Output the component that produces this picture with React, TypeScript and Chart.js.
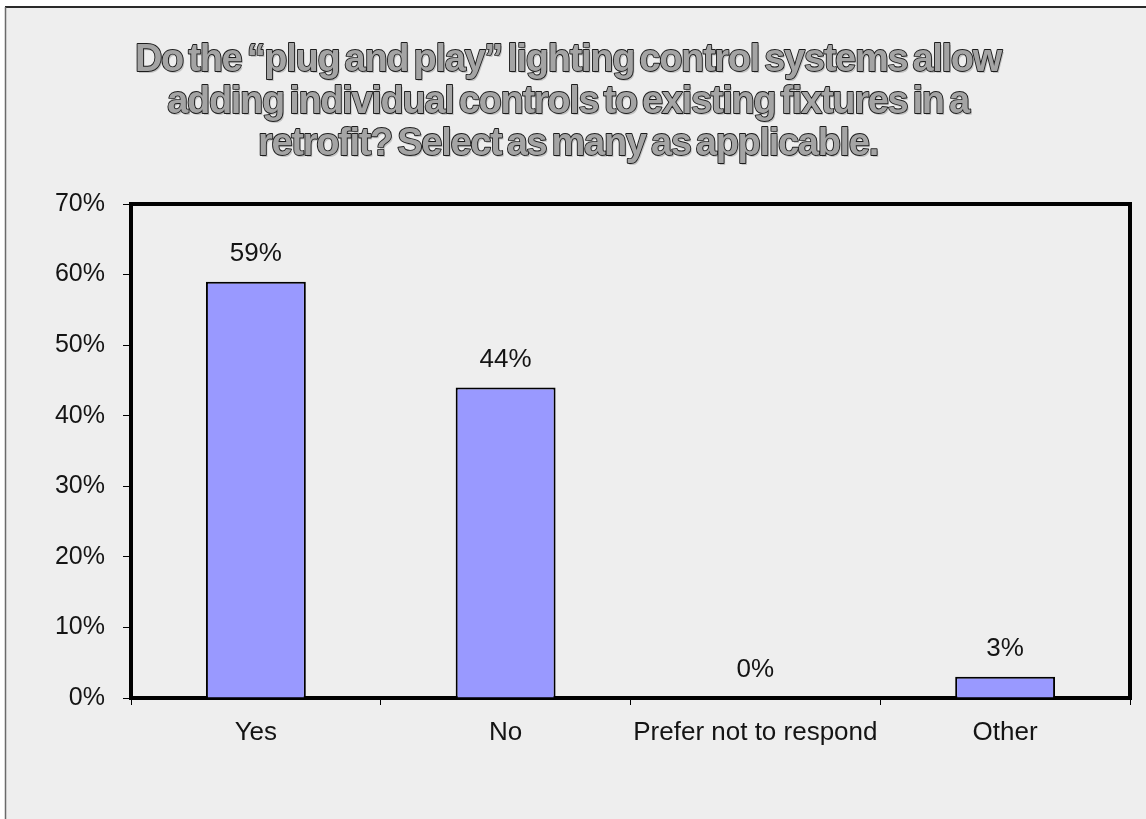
import { useEffect, useRef } from 'react';
import { Chart, registerables } from 'chart.js';

Chart.register(...registerables);

// Survey answers and their shares of respondents (percent)
const categories = ['Yes', 'No', 'Prefer not to respond', 'Other'];
const responseShares = [59, 44, 0, 3];

// Value axis range and step (percent)
const yMin = 0;
const yMax = 70;
const yStep = 10;

const titleLines = [
  'Do the \u201Cplug and play\u201D lighting control systems allow',
  'adding individual controls to existing fixtures in a',
  'retrofit? Select as many as applicable.',
];

const FONT = '"Liberation Sans", Arial, Helvetica, sans-serif';
const WIDTH = 1146;
const HEIGHT = 819;

// Slide-style grey panel with a dark top and left edge
const panelBackground = {
  id: 'panelBackground',
  beforeDraw(chart: Chart) {
    const { ctx, width, height } = chart;
    ctx.save();
    ctx.fillStyle = '#ffffff';
    ctx.fillRect(0, 0, width, height);
    ctx.fillStyle = '#eeeeee';
    ctx.fillRect(5, 7, width - 5, height - 7);
    ctx.strokeStyle = '#2a2a2a';
    ctx.lineWidth = 2;
    ctx.beginPath();
    ctx.moveTo(5, 7);
    ctx.lineTo(width, 7);
    ctx.stroke();
    ctx.strokeStyle = '#6a6a6a';
    ctx.lineWidth = 1.5;
    ctx.beginPath();
    ctx.moveTo(5.5, 7);
    ctx.lineTo(5.5, height);
    ctx.stroke();
    ctx.restore();
  },
};

// Embossed, tightly tracked three-line heading above the plot
const embossedTitle = {
  id: 'embossedTitle',
  afterDraw(chart: Chart) {
    const ctx = chart.ctx as any;
    const cx = 568;
    const baselines = [71, 113, 155];
    ctx.save();
    ctx.font = `bold 38px ${FONT}`;
    ctx.letterSpacing = '-1.3px';
    ctx.wordSpacing = '-4px';
    ctx.textAlign = 'center';
    ctx.textBaseline = 'alphabetic';
    ctx.lineJoin = 'round';
    titleLines.forEach((line, i) => {
      const y = baselines[i];
      ctx.fillStyle = '#c4c4c4';
      ctx.fillText(line, cx + 1.5, y + 1.5);
      ctx.strokeStyle = '#1c1c1c';
      ctx.lineWidth = 1.8;
      ctx.strokeText(line, cx, y);
      ctx.fillStyle = '#a4a4a4';
      ctx.fillText(line, cx, y);
    });
    ctx.restore();
  },
};

// Closes the plot frame on the top and right sides
const plotFrame = {
  id: 'plotFrame',
  afterDatasetsDraw(chart: Chart) {
    const { ctx, chartArea } = chart;
    ctx.save();
    ctx.strokeStyle = '#000000';
    ctx.lineWidth = 4;
    ctx.lineCap = 'square';
    ctx.beginPath();
    ctx.moveTo(chartArea.left, chartArea.top);
    ctx.lineTo(chartArea.right, chartArea.top);
    ctx.lineTo(chartArea.right, chartArea.bottom);
    ctx.stroke();
    ctx.restore();
  },
};

// Percentage printed above each bar
const barValueLabels = {
  id: 'barValueLabels',
  afterDatasetsDraw(chart: Chart) {
    const { ctx } = chart;
    const meta = chart.getDatasetMeta(0);
    const values = chart.data.datasets[0].data as number[];
    ctx.save();
    ctx.font = `26px ${FONT}`;
    ctx.fillStyle = '#141414';
    ctx.textAlign = 'center';
    ctx.textBaseline = 'middle';
    meta.data.forEach((bar: any, i: number) => {
      ctx.fillText(`${values[i]}%`, bar.x, bar.y - 28);
    });
    ctx.restore();
  },
};

export default function App() {
  const canvasRef = useRef<HTMLCanvasElement | null>(null);

  useEffect(() => {
    const canvas = canvasRef.current;
    if (!canvas) return;
    const chart = new Chart(canvas, {
      type: 'bar',
      data: {
        labels: categories,
        datasets: [
          {
            data: responseShares,
            backgroundColor: '#9999ff',
            borderColor: '#000000',
            borderWidth: 2,
            barPercentage: 0.4,
            categoryPercentage: 1.0,
          },
        ],
      },
      options: {
        responsive: false,
        maintainAspectRatio: false,
        animation: false,
        devicePixelRatio: 1,
        layout: { padding: { top: 204, right: 16, bottom: 0, left: 0 } },
        plugins: {
          legend: { display: false },
          tooltip: { enabled: false },
          title: { display: false },
        },
        scales: {
          x: {
            offset: true,
            grid: {
              display: true,
              offset: true,
              drawOnChartArea: false,
              drawTicks: true,
              tickLength: 7,
              color: '#000000',
              lineWidth: 1,
            },
            border: { display: true, color: '#000000', width: 4 },
            ticks: {
              color: '#141414',
              font: { family: FONT, size: 26 },
              padding: 12,
              maxRotation: 0,
              autoSkip: false,
            },
            afterFit(scale: any) {
              scale.height = 121;
            },
          },
          y: {
            min: yMin,
            max: yMax,
            grid: {
              display: true,
              drawOnChartArea: false,
              drawTicks: true,
              tickLength: 8,
              color: '#000000',
              lineWidth: 1,
            },
            border: { display: true, color: '#000000', width: 4 },
            ticks: {
              stepSize: yStep,
              color: '#141414',
              font: { family: FONT, size: 25 },
              padding: 18,
              callback: (v: any) => `${v}%`,
            },
            afterFit(scale: any) {
              scale.width = 131;
            },
          },
        },
      },
      plugins: [panelBackground, embossedTitle, plotFrame, barValueLabels],
    });
    return () => chart.destroy();
  }, []);

  return (
    <div style={{ position: 'fixed', left: 0, top: 0, width: WIDTH, height: HEIGHT }}>
      <canvas ref={canvasRef} width={WIDTH} height={HEIGHT} style={{ display: 'block' }} />
    </div>
  );
}
